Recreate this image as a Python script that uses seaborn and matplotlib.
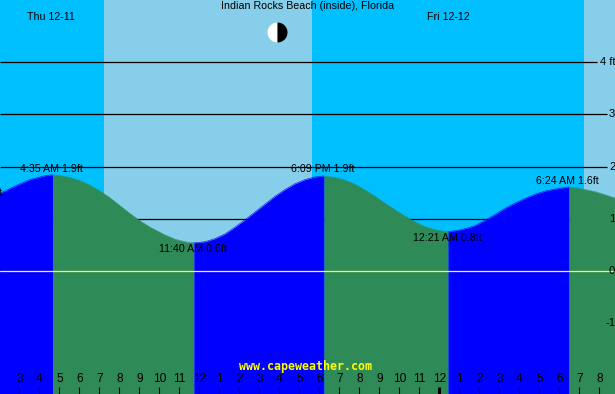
import numpy as np
import pandas as pd
import matplotlib
matplotlib.use("Agg")
import matplotlib.pyplot as plt
import seaborn as sns

# hours since Thu midnight, tide height in ft
hours = [1.9, 2.45, 2.95, 3.45, 3.95, 4.25, 4.58, 4.95, 5.45, 5.95, 6.45, 6.95, 7.45, 7.95, 8.45,
         8.95, 9.45, 9.95, 10.2, 10.7, 11.2, 11.64, 12.2, 12.7, 13.2, 13.7, 14.2, 14.7, 15.2,
         15.7, 16.2, 16.7, 17.2, 17.7, 18.15, 18.7, 19.2, 19.7, 20.2, 20.7, 21.2, 21.7, 22.2,
         22.7, 23.2, 23.7, 24.35, 24.85, 25.3, 25.7, 26.2, 26.7, 27.2, 27.7, 28.2, 28.7, 29.2, 29.7,
         30.4, 30.8, 31.2, 31.7, 32.2, 32.75]
feet = [1.48, 1.58, 1.67, 1.75, 1.80, 1.83, 1.84, 1.83, 1.79, 1.73, 1.64, 1.53, 1.40, 1.25, 1.10,
        0.96, 0.84, 0.74, 0.69, 0.61, 0.56, 0.54, 0.56, 0.62, 0.71, 0.84, 0.98, 1.13, 1.28,
        1.43, 1.56, 1.67, 1.75, 1.80, 1.82, 1.79, 1.74, 1.66, 1.55, 1.43, 1.30, 1.17, 1.05,
        0.94, 0.85, 0.79, 0.75, 0.78, 0.82, 0.87, 0.97, 1.08, 1.20, 1.30, 1.39, 1.47, 1.53, 1.57,
        1.61, 1.59, 1.56, 1.52, 1.46, 1.39]

slack_hours = [1.9, 4.58, 11.64, 18.15, 24.35, 30.4, 32.75]
slack_kinds = ["rising", "falling", "rising", "falling", "rising", "falling"]
tide_labels = ["4:35 AM 1.9ft", "11:40 AM 0.6ft", "6:09 PM 1.9ft", "12:21 AM 0.8ft", "6:24 AM 1.6ft"]
tide_label_x = [4.53, 11.6, 18.1, 24.33, 30.33]
tide_label_y = [1.96, 0.43, 1.96, 0.64, 1.73]

day_edges = [1.95, 7.15, 17.55, 31.15, 32.7]
day_kinds = ["night", "day", "night", "day"]
day_labels = ["Thu 12-11", "Fri 12-12"]
day_label_x = [4.5, 24.35]

grid_feet = [4, 3, 2, 1]
grid_ends = [31.8, 32.3, 32.3, 32.3]
side_labels = ["4 ft", "3", "2", "1", "0", "-1"]
side_feet = [4, 3, 2, 1, 0, -1]
side_x = [31.95, 32.4, 32.4, 32.4, 32.4, 32.25]

tick_hours = list(range(3, 33))
tick_labels = [str((h - 1) % 12 + 1) for h in tick_hours]

COLORS = {"rising": "#0000FF", "falling": "#2E8B57", "night": "#00BFFF", "day": "#87CEEB"}

sns.set_style("white")
plt.rcParams["font.family"] = ["Liberation Sans", "DejaVu Sans"]
plt.rcParams["text.color"] = "black"

XMIN, XMAX = 1.95, 32.7
YMIN, YMAX = -2.354, 5.187

fig = plt.figure(figsize=(6.15, 3.94), dpi=100)
ax = fig.add_axes([0, 0, 1, 1])
ax.set_axisbelow(False)
for side in ax.spines.values():
    side.set_visible(False)

for i, kind in enumerate(day_kinds):
    ax.axvspan(day_edges[i], day_edges[i + 1], color=COLORS[kind], lw=0, zorder=0)

for y, end in zip(grid_feet, grid_ends):
    ax.plot([XMIN, end], [y, y], color="black", lw=0.9, zorder=0.5, solid_capstyle="butt")

# split the tide curve at each high and low so every stretch gets its own colour
hours_arr = np.array(hours)
feet_arr = np.array(feet)
frames = []
for i, kind in enumerate(slack_kinds):
    mask = (hours_arr >= slack_hours[i]) & (hours_arr <= slack_hours[i + 1])
    ax.fill_between(hours_arr[mask], YMIN, feet_arr[mask], color=COLORS[kind], lw=0,
                    antialiased=False, zorder=0.8)
    frames.append(pd.DataFrame({"hour": hours_arr[mask], "ft": feet_arr[mask], "stretch": i}))
tide = pd.concat(frames)
sns.lineplot(data=tide, x="hour", y="ft", hue="stretch", estimator=None, sort=False,
             palette=[COLORS[k] for k in slack_kinds], lw=0.4, legend=False, ax=ax, zorder=0.9)

ax.axhline(0, color="#FFFF40", lw=0.9, zorder=2)

ax.set_xlim(XMIN, XMAX)
ax.set_ylim(YMIN, YMAX)
ax.set_xlabel("")
ax.set_ylabel("")
ax.set_yticks([])
ax.set_xticks(np.array(tick_hours) - 0.075)
ax.set_xticklabels(tick_labels, fontsize=8.6, color="black")
ax.tick_params(axis="x", direction="in", bottom=True, length=5, width=0.8, color="black", pad=-15)
# the midnight tick is the heavy one
ax.xaxis.get_major_ticks()[tick_hours.index(24)].tick1line.set_markeredgewidth(2.2)

FS = 7.7
ax.text(17.325, 5.075, "Indian Rocks Beach (inside), Florida", ha="center", va="center", fontsize=FS)
for x, label in zip(day_label_x, day_labels):
    ax.text(x, 4.86, label, ha="center", va="center", fontsize=FS)
for x, y, label in zip(tide_label_x, tide_label_y, tide_labels):
    ax.text(x, y, label, ha="center", va="center", fontsize=FS, zorder=3)
for x, y, label in zip(side_x, side_feet, side_labels):
    ax.text(x, y, label, ha="left", va="center", fontsize=FS + 0.4, zorder=3)
ax.text(2.1, 1.49, "ft", ha="right", va="center", fontsize=FS, zorder=3)

ax.plot([15.8], [4.57], marker="o", ms=14.4, mew=0, fillstyle="left",
        markerfacecolor="white", markerfacecoloralt="black", zorder=3)

ax.text(17.25, -1.82, "www.capeweather.com", ha="center", va="center", color="#FFFF00",
        fontsize=8.4, fontweight="bold", family="DejaVu Sans Mono", zorder=4)

fig.savefig("out.png", dpi=100)
plt.close(fig)
